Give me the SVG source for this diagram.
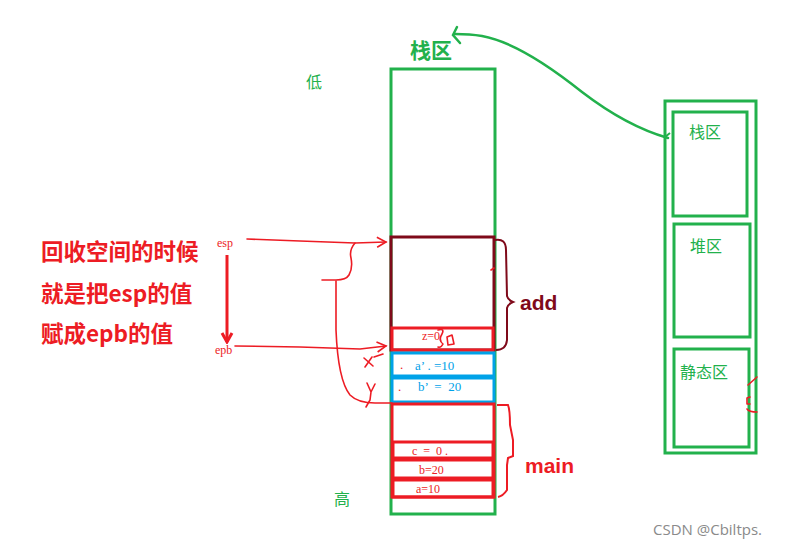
<svg xmlns="http://www.w3.org/2000/svg" width="808" height="551" viewBox="0 0 808 551">
<style>
.g{fill:none;stroke:#22b14c;stroke-width:3}
.r{fill:none;stroke:#ed1c24;stroke-width:3}
.rl{fill:none;stroke:#ed1c24;stroke-width:1.6;stroke-linecap:round;stroke-linejoin:round}
.dr{fill:none;stroke:#7f0a1a;stroke-width:3}
.b{fill:none;stroke:#00a2e8;stroke-width:3}
.cjk{font-family:"Noto Sans CJK SC","Noto Sans",sans-serif}
.sm{font-family:"Liberation Serif",serif;font-size:12px;fill:#ed1c24}
.gl{font-family:"Noto Sans CJK SC",sans-serif;font-size:16px;fill:#22b14c}
</style>
<defs>
<marker id="oa" markerWidth="12" markerHeight="12" refX="10" refY="6" orient="auto" markerUnits="userSpaceOnUse">
<path d="M1,1 L10,6 L1,11" fill="none" stroke="#ed1c24" stroke-width="1.6"/>
</marker>
<marker id="da" markerWidth="14" markerHeight="14" refX="7" refY="12" orient="0" markerUnits="userSpaceOnUse">
<path d="M2,3 L7,12 L12,3" fill="none" stroke="#ed1c24" stroke-width="3"/>
</marker>
</defs>
<rect width="808" height="551" fill="#ffffff"/>

<g id="stack">
<rect class="g" x="391" y="69" width="104" height="445"/>
<text x="410" y="58" class="cjk" font-size="21" font-weight="bold" fill="#22b14c">栈区</text>
<text x="306" y="88" class="gl" font-size="14">低</text>
<text x="334" y="505" class="gl" font-size="14">高</text>
</g>

<g id="add">
<rect class="dr" x="391" y="237" width="103" height="113"/>
<path class="rl" d="M491,270 L494,268"/>
<path fill="none" stroke="#7f0a1a" stroke-width="2" d="M495,240 Q506,238 506,250 L507,296 Q508,300 513,302 Q508,304 507,308 L507,340 Q506,350 496,350"/>
<text x="520" y="310" font-family="'Liberation Sans',sans-serif" font-size="21" font-weight="bold" fill="#7f0a1a">add</text>
</g>

<g id="z0">
<rect class="r" x="392" y="328" width="101" height="22"/>
<text x="422" y="340" class="sm" font-size="11">z=0</text>
<path class="rl" d="M438,330 Q445,328 442,334 Q438,340 443,344 Q441,348 438,347"/>
<path class="rl" d="M447,337 L452,335 L454,344 L448,345 Z" stroke-width="2"/>
</g>

<g id="a10">
<rect class="b" x="392" y="353" width="102" height="23"/>
<text x="400" y="369" font-family="'Liberation Serif',serif" font-size="13" fill="#ed1c24">.</text>
<text x="415" y="370" font-family="'Liberation Serif',serif" font-size="13" fill="#00a2e8">a’ . =10</text>
</g>

<g id="b20">
<rect class="b" x="392" y="378" width="102" height="24"/>
<text x="398" y="391" font-family="'Liberation Serif',serif" font-size="13" fill="#ed1c24">.</text>
<text x="418" y="391" font-family="'Liberation Serif',serif" font-size="13" fill="#00a2e8" xml:space="preserve">b’  =  20</text>
</g>

<g id="main">
<rect class="r" x="392" y="404" width="102" height="93"/>
<rect class="r" x="393" y="442" width="100" height="16"/>
<rect class="r" x="393" y="460" width="100" height="18"/>
<rect class="r" x="393" y="480" width="100" height="17"/>
<text x="412" y="455" class="sm" font-size="13" xml:space="preserve">c  =  0 .</text>
<text x="419" y="474" class="sm" font-size="13">b=20</text>
<text x="416" y="493" class="sm" font-size="13">a=10</text>
<path fill="none" stroke="#ed1c24" stroke-width="2" d="M497,405 L508,405 Q510,410 510,425 L513,440 L513,456 L508,458 L507,465 L507,490 Q503,496 498,497"/>
<text x="525" y="473" font-family="'Liberation Sans',sans-serif" font-size="21" font-weight="bold" fill="#ed1c24">main</text>
</g>

<g id="memory">
<rect class="g" x="665" y="101" width="91" height="352"/>
<rect class="g" x="673" y="112" width="74" height="104"/>
<rect class="g" x="674" y="224" width="76" height="113"/>
<rect class="g" x="674" y="349" width="75" height="98"/>
<text x="689" y="138" class="gl">栈区</text>
<text x="690" y="252" class="gl">堆区</text>
<text x="680" y="378" class="gl">静态区</text>
<path class="rl" d="M748,385 L757,377"/>
<path class="rl" d="M750,397 L747,398 L747,404 L750,404"/>
<path class="rl" d="M747,409 Q749,412 757,412"/>
</g>

<g id="notes">
<text x="41" y="260" class="cjk" font-size="22.5" font-weight="bold" fill="#ed1c24">回收空间的时候</text>
<text x="41" y="302" class="cjk" font-size="22.5" font-weight="bold" fill="#ed1c24">就是把esp的值</text>
<text x="41" y="342" class="cjk" font-size="22.5" font-weight="bold" fill="#ed1c24">赋成epb的值</text>
<text x="217" y="247" class="sm">esp</text>
<text x="215" y="354" class="sm">epb</text>
</g>

<g id="connectors">
<path d="M668,138 C640,130 612,115 582,92 C552,68 515,42 482,36 C470,34 462,34 455,34" fill="none" stroke="#22b14c" stroke-width="2.5" stroke-linecap="round"/>
<path d="M457,27 L453,35 L460,43" fill="none" stroke="#22b14c" stroke-width="2.5" stroke-linecap="round"/>
<path d="M665,137 L670,133" fill="none" stroke="#22b14c" stroke-width="2"/>
<path d="M227,255 L227,342" fill="none" stroke="#ed1c24" stroke-width="3" marker-end="url(#da)"/>
<path class="rl" d="M247,239 L300,241 L355,243 L386,242" marker-end="url(#oa)"/>
<path class="rl" d="M235,346 L300,347 L360,349 L386,346" marker-end="url(#oa)"/>
<path class="rl" d="M355,243 Q349,250 351,258 Q353,268 349,275 Q346,280 336,280 L322,280"/>
<path class="rl" d="M336,281 L336,330 Q338,380 350,395 Q358,403 375,403 L392,403"/>
<path class="rl" d="M383,354 L374,357"/>
<path class="rl" d="M364,358 L373,366 M372,357 L365,367" stroke-width="2.2"/>
<path class="rl" d="M367,383 L371,392 L375,384 M371,392 L370,400 L366,407"/>
</g>

<text x="653" y="535" font-family="'Open Sans','Noto Sans',sans-serif" font-size="15" fill="#8a8a8a">CSDN @Cbiltps.</text>
</svg>
